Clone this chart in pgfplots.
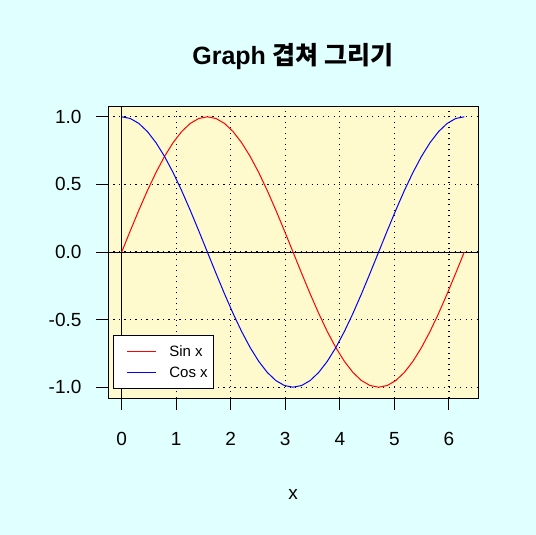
\documentclass[border=0pt]{standalone}
\usepackage{pgfplots}
\pgfplotsset{compat=1.18}
\usepackage{pgfplotstable}
\usepackage{fontspec}
\setmainfont{Liberation Sans}
\newfontfamily\krfont{Noto Sans CJK KR}
\definecolor{bgcyan}{HTML}{E0FFFF}
\definecolor{plotbg}{HTML}{FFFACD}
\pgfplotstableread{
x s c
0.0000 0.0000 1.0000
0.1571 0.1564 0.9877
0.3142 0.3090 0.9511
0.4712 0.4540 0.8910
0.6283 0.5878 0.8090
0.7854 0.7071 0.7071
0.9425 0.8090 0.5878
1.0996 0.8910 0.4540
1.2566 0.9511 0.3090
1.4137 0.9877 0.1564
1.5708 1.0000 0.0000
1.7279 0.9877 -0.1564
1.8850 0.9511 -0.3090
2.0420 0.8910 -0.4540
2.1991 0.8090 -0.5878
2.3562 0.7071 -0.7071
2.5133 0.5878 -0.8090
2.6704 0.4540 -0.8910
2.8274 0.3090 -0.9511
2.9845 0.1564 -0.9877
3.1416 0.0000 -1.0000
3.2987 -0.1564 -0.9877
3.4558 -0.3090 -0.9511
3.6128 -0.4540 -0.8910
3.7699 -0.5878 -0.8090
3.9270 -0.7071 -0.7071
4.0841 -0.8090 -0.5878
4.2412 -0.8910 -0.4540
4.3982 -0.9511 -0.3090
4.5553 -0.9877 -0.1564
4.7124 -1.0000 0.0000
4.8695 -0.9877 0.1564
5.0265 -0.9511 0.3090
5.1836 -0.8910 0.4540
5.3407 -0.8090 0.5878
5.4978 -0.7071 0.7071
5.6549 -0.5878 0.8090
5.8119 -0.4540 0.8910
5.9690 -0.3090 0.9511
6.1261 -0.1564 0.9877
6.2832 0.0000 1.0000
}\trig
\begin{document}
\begin{tikzpicture}
\fill[bgcyan] (-108pt,-137pt) rectangle (428pt,398pt);
\begin{axis}[
  at={(0pt,0pt)}, anchor=south west,
  scale only axis, width=370pt, height=292pt,
  xmin=-0.2513, xmax=6.5345, ymin=-1.08, ymax=1.08,
  axis background/.style={fill=plotbg},
  axis line style={black, line width=0.8pt},
  xtick={0,1,2,3,4,5,6}, xticklabels={0,1,2,3,4,5,6},
  ytick={-1,-0.5,0,0.5,1}, yticklabels={-1.0,-0.5,0.0,0.5,1.0},
  xtick pos=bottom, ytick pos=left,
  tick align=outside, major tick length=12pt,
  tick style={black, line width=0.8pt},
  ticklabel style={font=\fontsize{19}{22}\selectfont},
  xticklabel style={yshift=-19pt},
  yticklabel style={xshift=-11pt},
  grid=major,
  major grid style={black, line width=1.3pt, dash pattern=on 1.4pt off 4.1pt},
  title={\bfseries Graph \krfont 겹쳐 그리기},
  title style={font=\fontsize{25}{28}\selectfont, at={(0.5,1)}, anchor=base, yshift=35pt},
  xlabel={x},
  xlabel style={font=\fontsize{19}{22}\selectfont, at={(0.5,0)}, anchor=base, yshift=-102pt},
  legend style={at={(0.0135,0.031)}, anchor=south west, draw=black, fill=white,
    line width=0.8pt, font=\fontsize{15}{17}\selectfont,
    inner xsep=4pt, inner ysep=8pt, row sep=5pt},
  legend cell align=left,
  legend image code/.code={\path[draw=none] (-10pt,0pt) -- (40pt,0pt); \draw[#1, line width=1.2pt] (0pt,0pt) -- (29pt,0pt);},
]
\addplot[forget plot, black, line width=0.8pt] coordinates {(-0.2513,0) (6.5345,0)};
\addplot[forget plot, black, line width=0.8pt] coordinates {(0,-1.08) (0,1.08)};
\addplot[red, line width=1pt] table[x=x, y=s] {\trig};
\addlegendentry{Sin x}
\addplot[blue, line width=1pt] table[x=x, y=c] {\trig};
\addlegendentry{Cos x}
\end{axis}
\end{tikzpicture}
\end{document}
